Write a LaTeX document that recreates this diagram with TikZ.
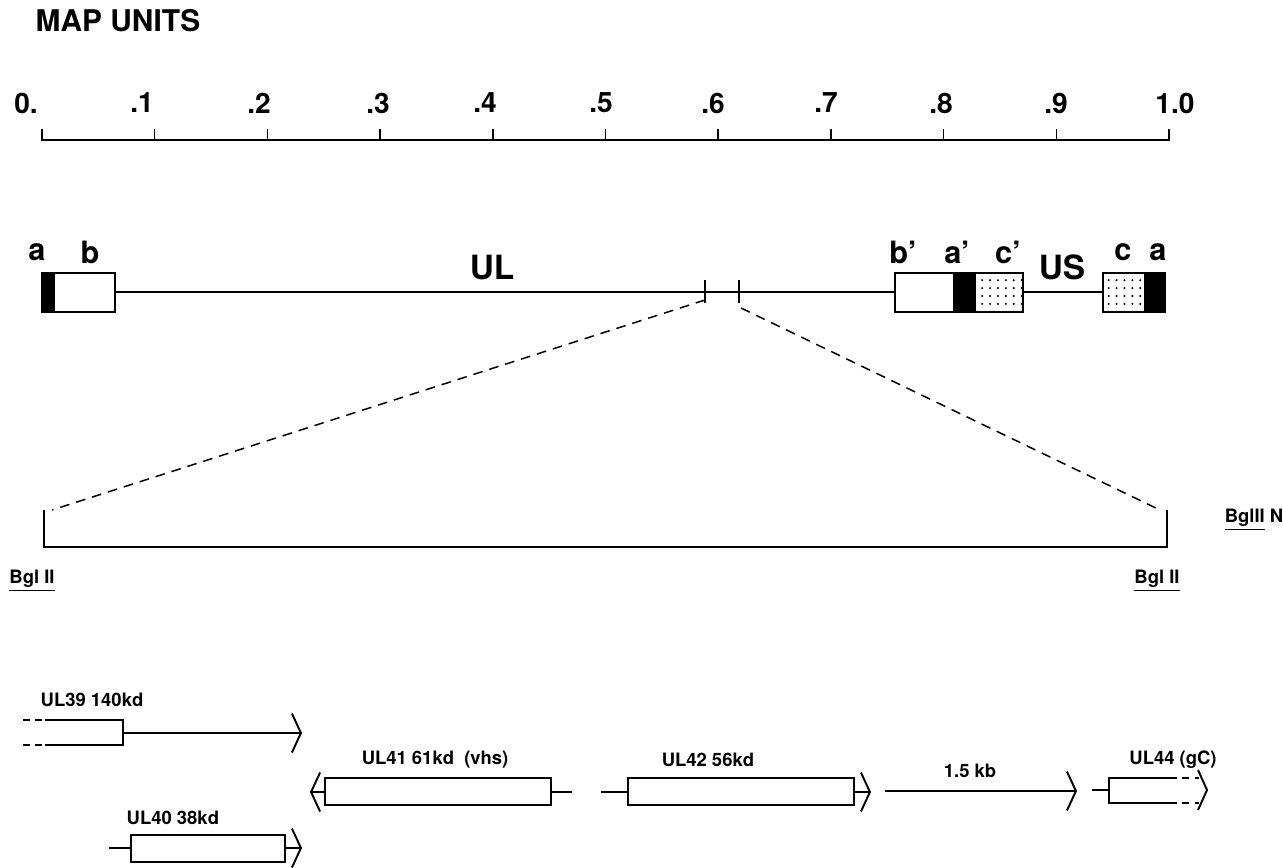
\documentclass[tikz,border=0pt]{standalone}
\usepackage{fontspec}
\setmainfont{TeX Gyre Heros}
\usetikzlibrary{arrows.meta,patterns}

\pgfdeclarepatternformonly{sparsedots}{\pgfqpoint{-1pt}{-1pt}}{\pgfqpoint{5.5pt}{5.5pt}}{\pgfqpoint{4.5pt}{4.5pt}}{\pgfpathcircle{\pgfqpoint{1pt}{1pt}}{0.65pt}\pgfusepath{fill}}

\begin{document}
\begin{tikzpicture}[x=0.02cm,y=-0.02cm,line width=0.85pt,
    ticklbl/.style={font=\bfseries\fontsize{16}{18}\selectfont, inner sep=0pt},
    seglbl/.style={font=\bfseries\fontsize{17.5}{19}\selectfont, inner sep=0pt},
    genelbl/.style={font=\bfseries\fontsize{10.5}{12}\selectfont, inner sep=0pt},
    orf/.style={draw, fill=white},
    repeatc/.style={draw, pattern=sparsedots},
    zoomline/.style={dash pattern=on 5.5pt off 4pt},
    dashend/.style={dash pattern=on 4pt off 3pt},
    tip/.style={-{Straight Barb[length=0.18cm,width=0.78cm,line width=1.1pt]}},
    tipl/.style={{Straight Barb[length=0.18cm,width=0.78cm,line width=1.1pt]}-}]
  \useasboundingbox (0,0) rectangle (1283,867);

  % map units scale
  \node[anchor=west, font=\bfseries\fontsize{17}{19}\selectfont, inner sep=0pt] (title) at (35,21) {MAP UNITS};
  \draw (42,129) -- (42,140) -- (1169,140) -- (1169,129);
  \foreach \i in {1,...,9}
    \draw (42+112.7*\i,129) -- ++(0,11);
  \foreach \i/\t/\x in {0/0./26,1/.1/142,2/.2/259,3/.3/378,4/.4/485,5/.5/601,
                        6/.6/713,7/.7/826,8/.8/941,9/.9/1056,10/1.0/1175}
    \node[ticklbl] (mu\i) at (\x,103) {\t};

  % genome
  \draw[orf] (42,273) rectangle (115,312);
  \fill (42,273) rectangle (55,312);
  \coordinate (cutL) at (705,292);
  \coordinate (cutR) at (739,292);
  \draw (115,292) -- (cutL) -- (cutR) -- (895,292);
  \draw (705,280) -- (705,303) (739,280) -- (739,303);
  \draw[orf] (895,273) rectangle (975,312);
  \fill (953,273) rectangle (975,312);
  \draw[repeatc] (975,273) rectangle (1023,312);
  \draw (1023,292) -- (1103,292);
  \draw[repeatc] (1103,273) rectangle (1145,312);
  \filldraw (1145,273) rectangle (1165,312);
  \node[seglbl] (la1) at (37,252) {a};
  \node[seglbl] (lb1) at (90,252) {b};
  \node[font=\bfseries\fontsize{19}{21}\selectfont, inner sep=0pt] (lul) at (492,268) {UL};
  \node[seglbl] (lb2) at (903,252) {b'};
  \node[seglbl] (la2) at (957,252) {a'};
  \node[seglbl] (lc2) at (1008,252) {c'};
  \node[font=\bfseries\fontsize{19}{21}\selectfont, inner sep=0pt] (lus) at (1062,267) {US};
  \node[seglbl] (lc1) at (1123,252) {c};
  \node[seglbl] (la3) at (1158,252) {a};

  % enlarged BglII N fragment
  \coordinate (zl) at (705,300);
  \coordinate (zr) at (741,308);
  \coordinate (bgl1) at (44,547);
  \coordinate (bgl2) at (1167,547);
  \draw[zoomline] (zl) -- (52,510);
  \draw[zoomline] (zr) -- (1160,510);
  \draw (44,510) -- (bgl1) -- (bgl2) -- (1167,510);
  \node[genelbl] (bg1) at (32,581) {\underline{Bgl II}};
  \node[genelbl] (bg2) at (1157,581) {\underline{Bgl II}};
  \node[genelbl] (bgn) at (1254,520) {\underline{BglII} N};

  % open reading frames
  \draw[dashend] (23,720) -- (45,720) (23,745) -- (45,745);
  \draw (45,720) -- (123,720) -- (123,745) -- (45,745);
  \draw[tip] (123,733) -- (302,733);
  \node[genelbl, anchor=west] (ul39) at (40,700) {UL39 140kd};

  \draw (109,848) -- (131,848);
  \draw[orf] (131,835) rectangle (285,862);
  \draw[tip] (285,848) -- (302,848);
  \node[genelbl, anchor=west] (ul40) at (126,818) {UL40 38kd};

  \draw[tipl] (310,792) -- (325,792);
  \draw[orf] (325,778) rectangle (551,805);
  \draw (551,792) -- (572,792);
  \node[genelbl, anchor=west] (ul41) at (361,760) {UL41 61kd~~(vhs)};

  \draw (601,792) -- (628,792);
  \draw[orf] (628,778) rectangle (854,805);
  \draw[tip] (854,792) -- (871,792);
  \node[genelbl, anchor=west] (ul42) at (661,760) {UL42 56kd};

  \draw[tip] (885,791) -- (1077,791);
  \node[genelbl] (kb) at (970,771) {1.5 kb};

  \draw (1092,790) -- (1109,790);
  \draw (1170,778) -- (1109,778) -- (1109,803) -- (1170,803);
  \draw[dashend] (1170,778) -- (1199,778) (1170,803) -- (1199,803);
  \draw[line width=1.1pt] (1198,770) -- (1207,790) -- (1198,810);
  \node[genelbl] (ul44) at (1173,760) {UL44 (gC)};
\end{tikzpicture}
\end{document}
